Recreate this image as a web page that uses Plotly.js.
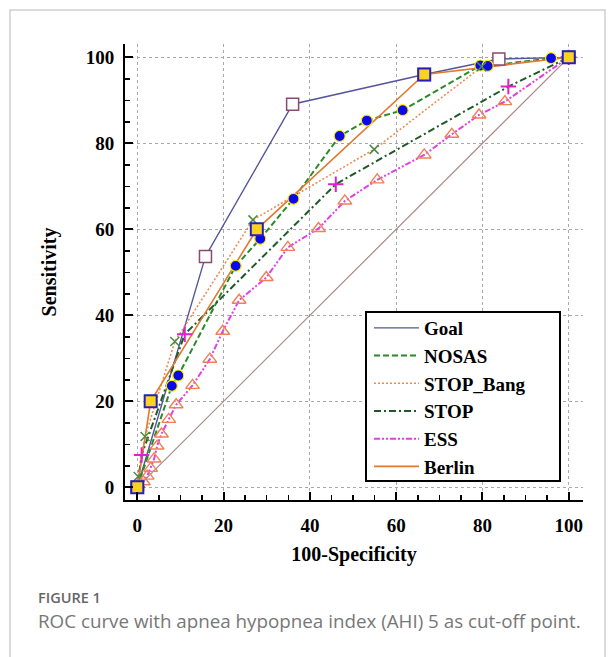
<!DOCTYPE html>
<html>
<head>
<meta charset="utf-8">
<script src="https://cdn.plot.ly/plotly-3.0.1.min.js"></script>
<style>
  html, body { margin: 0; padding: 0; background: #fff; }
  #chart { width: 616px; height: 657px; }
</style>
</head>
<body>
<div id="chart"></div>
<script>
// ---- Data ----
const seriesNames = ["Goal", "NOSAS", "STOP_Bang", "STOP", "ESS", "Berlin"];

const goalX = [0, 15.8, 36, 66.5, 83.8, 100];
const goalY = [0, 53.7, 89.1, 96, 99.6, 100];

const nosasX = [0, 8, 9.5, 22.8, 28.5, 36.2, 46.9, 53.2, 61.5, 79.5, 81.2, 95.9, 100];
const nosasY = [0, 23.6, 26, 51.5, 57.8, 67.1, 81.7, 85.3, 87.7, 98.1, 98, 99.8, 100];

const stopBangX = [0, 0.2, 1.8, 8.7, 26.8, 54.9, 79.8, 100];
const stopBangY = [0, 2.5, 11.8, 33.9, 62.2, 78.6, 97.8, 100];

const stopX = [0, 1, 11, 46, 86, 100];
const stopY = [0, 7.5, 35.6, 70.5, 93.2, 100];

const essX = [0, 1.4, 2.3, 3.1, 3.9, 4.6, 5.6, 7.3, 9, 12.8, 16.8, 19.8, 23.6, 29.9, 34.9, 42, 48.1, 55.6, 66.5, 72.9, 79.2, 85.2, 100];
const essY = [0, 1.3, 2.6, 4.4, 6.6, 9.6, 12.4, 15.8, 19.2, 23.7, 29.8, 36.3, 43.5, 48.8, 55.8, 60.2, 66.6, 71.5, 77.3, 82.1, 86.6, 89.7, 100];

const berlinX = [0, 3.1, 27.7, 66.5, 100];
const berlinY = [0, 20, 60, 96, 100];

const refX = [0, 100];
const refY = [0, 100];

const tickVals = [0, 20, 40, 60, 80, 100];
const tickText = ["0", "20", "40", "60", "80", "100"];

const xTitle = "100-Specificity";
const yTitle = "Sensitivity";
const figLabel = "FIGURE 1";
const figCaption = "ROC curve with apnea hypopnea index (AHI) 5 as cut-off point.";

// ---- Styles ----
const serif = "Liberation Serif, Times New Roman, serif";
const styles = [
  {x: goalX, y: goalY, line: {color: "#55559a", width: 1.4, dash: "solid"},
   marker: {symbol: "square", size: 12, color: "#ffffff", line: {color: "#8a4a6e", width: 1.5}}},
  {x: nosasX, y: nosasY, line: {color: "#2a8a2a", width: 2, dash: "6px,3px"},
   marker: {symbol: "circle", size: 11, color: "#0a0ae6", line: {color: "#ffee00", width: 1.2}}},
  {x: stopBangX, y: stopBangY, line: {color: "#f08a50", width: 1.6, dash: "2px,2px"},
   marker: {symbol: "x-thin", size: 9, color: "#4a8a4a", line: {color: "#4a8a4a", width: 1.5}}},
  {x: stopX, y: stopY, line: {color: "#1e5a28", width: 2, dash: "7px,3px,2px,3px"},
   marker: {symbol: "cross-thin", size: 11, color: "#e020c8", line: {color: "#e020c8", width: 2}}},
  {x: essX, y: essY, line: {color: "#e040e0", width: 2, dash: "6px,2px,2px,2px,2px,2px"},
   marker: {symbol: "triangle-up-open", size: 12, color: "#f08058", line: {color: "#f08058", width: 1.4}}},
  {x: berlinX, y: berlinY, line: {color: "#e07a30", width: 1.6, dash: "solid"},
   marker: {symbol: "square", size: 12, color: "#ffd21e", line: {color: "#2222bb", width: 2}}}
];

const traces = [];
traces.push({x: refX, y: refY, mode: "lines", line: {color: "#a88888", width: 1.2},
  showlegend: false, hoverinfo: "skip"});
styles.forEach((s, i) => {
  traces.push({x: s.x, y: s.y, mode: "lines", name: seriesNames[i], line: s.line,
    showlegend: true});
});
styles.forEach((s, i) => {
  traces.push({x: s.x, y: s.y, mode: "markers", name: seriesNames[i], marker: s.marker,
    showlegend: false});
});

const axisCommon = {
  showline: true, linecolor: "#000", linewidth: 2,
  ticks: "inside", ticklen: 8, tickwidth: 2, tickcolor: "#000",
  minor: {dtick: 5, ticks: "inside", ticklen: 5, tickwidth: 1.5, tickcolor: "#000", showgrid: false},
  showgrid: true, gridcolor: "#a8a8a8", griddash: "dot", gridwidth: 1,
  zeroline: false, tickmode: "array", tickvals: tickVals, ticktext: tickText,
  tickfont: {family: serif, size: 19, color: "#000", weight: "bold"},
  fixedrange: true
};

// pixel -> paper helpers for the fixed plot area (x: 125..583, y: 44..500)
const px = v => (v - 125) / 458;
const py = v => (500 - v) / 456;

const layout = {
  width: 616, height: 657,
  margin: {l: 125, r: 33, t: 44, b: 157},
  paper_bgcolor: "#fff", plot_bgcolor: "#fff",
  showlegend: true,
  xaxis: Object.assign({}, axisCommon, {
    range: [-2.85, 103.3], ticklabelstandoff: 7,
    title: {text: xTitle, font: {family: serif, size: 20, color: "#000", weight: "bold"}, standoff: 12}
  }),
  yaxis: Object.assign({}, axisCommon, {
    range: [-2.95, 103.1], ticklabelstandoff: 5,
    title: {text: yTitle, font: {family: serif, size: 20, color: "#000", weight: "bold"}, standoff: 24}
  }),
  legend: {
    x: px(366), y: py(309), xanchor: "left", yanchor: "top",
    bgcolor: "rgba(0,0,0,0)", borderwidth: 0,
    font: {family: serif, size: 19, color: "#000", weight: "bold"},
    itemwidth: 45, indentation: 3
  },
  shapes: [
    {type: "rect", xref: "paper", yref: "paper",
     x0: px(10), x1: px(605), y0: py(700), y1: py(10),
     line: {color: "#cfcfcf", width: 1.5}, fillcolor: "rgba(0,0,0,0)", layer: "below"},
    {type: "rect", xref: "paper", yref: "paper",
     x0: px(366), x1: px(560), y0: py(481), y1: py(312),
     line: {color: "#000", width: 2}, fillcolor: "#fff", layer: "above"}
  ],
  annotations: [
    {text: figLabel, xref: "paper", yref: "paper", x: px(36), y: py(597),
     xanchor: "left", yanchor: "middle", showarrow: false,
     font: {family: "Open Sans, sans-serif", size: 14.5, color: "#666", weight: 600}},
    {text: figCaption, xref: "paper", yref: "paper", x: px(36), y: py(621),
     xanchor: "left", yanchor: "middle", showarrow: false,
     font: {family: "Open Sans, sans-serif", size: 18.8, color: "#777", weight: 400}}
  ]
};

Plotly.newPlot("chart", traces, layout, {displayModeBar: false, staticPlot: true});
</script>
</body>
</html>
